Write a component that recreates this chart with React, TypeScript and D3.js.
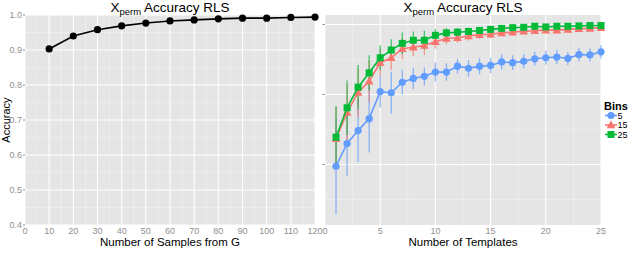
import * as d3 from 'd3';

// left panel: accuracy vs number of samples
const samples = [10, 20, 30, 40, 50, 60, 70, 80, 90, 100, 110, 120];
const sampleAcc = [0.903, 0.94, 0.958, 0.969, 0.977, 0.983, 0.986, 0.989, 0.991, 0.991, 0.993, 0.994];

// right panel: accuracy vs number of templates, per bin count
const templates = [1, 2, 3, 4, 5, 6, 7, 8, 9, 10, 11, 12, 13, 14, 15, 16, 17, 18, 19, 20, 21, 22, 23, 24, 25];
const acc5 = [0.595, 0.66, 0.697, 0.731, 0.808, 0.805, 0.835, 0.846, 0.852, 0.864, 0.864, 0.881, 0.875, 0.881, 0.883, 0.893, 0.891, 0.895, 0.902, 0.905, 0.907, 0.903, 0.914, 0.913, 0.922];
const err5 = [0.137, 0.093, 0.09, 0.097, 0.045, 0.06, 0.036, 0.03, 0.026, 0.027, 0.025, 0.021, 0.024, 0.023, 0.022, 0.022, 0.021, 0.021, 0.02, 0.02, 0.02, 0.019, 0.019, 0.019, 0.019];
const acc15 = [0.674, 0.749, 0.806, 0.838, 0.891, 0.905, 0.931, 0.935, 0.94, 0.951, 0.96, 0.962, 0.967, 0.971, 0.972, 0.976, 0.978, 0.981, 0.982, 0.984, 0.984, 0.986, 0.988, 0.989, 0.991];
const err15 = [0.09, 0.08, 0.07, 0.06, 0.04, 0.035, 0.03, 0.025, 0.028, 0.02, 0.016, 0.014, 0.013, 0.012, 0.011, 0.01, 0.01, 0.009, 0.009, 0.009, 0.008, 0.008, 0.008, 0.007, 0.007];
const acc25 = [0.678, 0.762, 0.821, 0.862, 0.905, 0.927, 0.946, 0.955, 0.955, 0.969, 0.976, 0.978, 0.98, 0.983, 0.986, 0.989, 0.991, 0.992, 0.995, 0.993, 0.995, 0.995, 0.996, 0.997, 0.997];
const err25 = [0.089, 0.078, 0.063, 0.05, 0.036, 0.031, 0.031, 0.025, 0.027, 0.018, 0.014, 0.012, 0.011, 0.01, 0.01, 0.009, 0.009, 0.008, 0.008, 0.008, 0.007, 0.007, 0.007, 0.006, 0.006];

const leftXTicks = [0, 10, 20, 30, 40, 50, 60, 70, 80, 90, 100, 110, 120];
const leftYTicks = [0.4, 0.5, 0.6, 0.7, 0.8, 0.9, 1.0];
const rightXTicks = [0, 5, 10, 15, 20, 25];
const rightYTicks = [0.4, 0.6, 0.8, 1.0];

const FONT = "'Liberation Sans', Arial, sans-serif";
const BG = '#E5E5E5';
const MINOR = '#F2F2F2';
const TICK_TXT = '#8f8f8f';

const series = [
  { name: '5', acc: acc5, err: err5, color: '#619CFF', shape: 'circle' },
  { name: '15', acc: acc15, err: err15, color: '#F8766D', shape: 'triangle' },
  { name: '25', acc: acc25, err: err25, color: '#00BA38', shape: 'square' },
];

const Shape = ({ shape, x, y, color }: any) => {
  if (shape === 'circle') return <circle cx={x} cy={y} r={3.6} fill={color} />;
  if (shape === 'square') return <rect x={x - 3.5} y={y - 3.5} width={7} height={7} fill={color} />;
  const s = 4.4;
  return <path d={`M${x},${y - s}L${x + s},${y + s * 0.75}L${x - s},${y + s * 0.75}Z`} fill={color} />;
};

const Title = ({ x }: any) => (
  <text x={x} y={12} textAnchor="middle" fontSize={13.5} fontFamily={FONT} fill="#000">
    X<tspan fontSize={9.5} dy={2.5}>perm</tspan><tspan dy={-2.5}> Accuracy RLS</tspan>
  </text>
);

const App = () => {
  const top = 15, bottom = 225;

  // left panel scales
  const xL = d3.scaleLinear().domain([0, 120]).range([25, 315]);
  const yL = d3.scaleLinear().domain([0.4, 1.0]).range([bottom, top]);
  // right panel scales
  const xR = d3.scaleLinear().domain([0, 25]).range([325, 601]);
  const yR = d3.scaleLinear().domain([1 - (bottom - 24.5) / 350, 1 - (top - 24.5) / 350]).range([bottom, top]);

  const leftLine = d3.line<number>().x((d, i) => xL(samples[i])).y(d => yL(d));
  const rightLine = (acc: number[]) =>
    d3.line<number>().x((d, i) => xR(templates[i])).y(d => yR(d))(acc) || '';

  const leftMinorX = d3.range(5, 120, 10);
  const leftMinorY = d3.range(0.45, 1.0, 0.1);
  const rightMinorX = d3.range(2.5, 25, 5);
  const rightMinorY = [0.5, 0.7, 0.9];

  return (
    <div style={{ position: 'absolute', left: 0, top: 0 }}>
      <svg width={640} height={263} style={{ display: 'block' }} fontFamily={FONT}>
        <rect width={640} height={263} fill="#fff" />

        {/* ---- left panel ---- */}
        <rect x={25} y={top} width={290} height={bottom - top} fill={BG} />
        {leftMinorX.map(v => <line key={'lmx' + v} x1={xL(v)} x2={xL(v)} y1={top} y2={bottom} stroke={MINOR} strokeWidth={0.6} />)}
        {leftMinorY.map(v => <line key={'lmy' + v} x1={25} x2={315} y1={yL(v)} y2={yL(v)} stroke={MINOR} strokeWidth={0.6} />)}
        {leftXTicks.map(v => <line key={'lgx' + v} x1={xL(v)} x2={xL(v)} y1={top} y2={bottom} stroke="#fff" strokeWidth={1.1} />)}
        {leftYTicks.map(v => <line key={'lgy' + v} x1={25} x2={315} y1={yL(v)} y2={yL(v)} stroke="#fff" strokeWidth={1.1} />)}
        <path d={leftLine(sampleAcc) || ''} fill="none" stroke="#000" strokeWidth={1.6} />
        {sampleAcc.map((d, i) => <circle key={'lp' + i} cx={xL(samples[i])} cy={yL(d)} r={3.6} fill="#000" />)}
        {leftYTicks.map(v => (
          <g key={'lyt' + v}>
            <line x1={23} x2={25} y1={yL(v)} y2={yL(v)} stroke={TICK_TXT} />
            <text x={22} y={yL(v) + 3} textAnchor="end" fontSize={9} fill={TICK_TXT}>{v.toFixed(1)}</text>
          </g>
        ))}
        {leftXTicks.map(v => (
          <g key={'lxt' + v}>
            <text x={xL(v)} y={bottom + 9} textAnchor="middle" fontSize={9} fill={TICK_TXT}>{v}</text>
          </g>
        ))}
        <Title x={170} />
        <text x={170} y={246} textAnchor="middle" fontSize={11.5} fill="#000">Number of Samples from G</text>
        <text transform={`translate(9.5,${120}) rotate(-90)`} textAnchor="middle" fontSize={11} fill="#000">Accuracy</text>

        {/* ---- right panel ---- */}
        <rect x={325} y={top} width={276} height={bottom - top} fill={BG} />
        {rightMinorX.map(v => <line key={'rmx' + v} x1={xR(v)} x2={xR(v)} y1={top} y2={bottom} stroke={MINOR} strokeWidth={0.6} />)}
        {rightMinorY.map(v => <line key={'rmy' + v} x1={325} x2={601} y1={yR(v)} y2={yR(v)} stroke={MINOR} strokeWidth={0.6} />)}
        {rightXTicks.map(v => <line key={'rgx' + v} x1={xR(v)} x2={xR(v)} y1={top} y2={bottom} stroke="#fff" strokeWidth={1.1} />)}
        {rightYTicks.filter(v => yR(v) < bottom).map(v => <line key={'rgy' + v} x1={325} x2={601} y1={yR(v)} y2={yR(v)} stroke="#fff" strokeWidth={1.1} />)}

        {series.map(s => (
          <g key={'eb' + s.name}>
            {s.acc.map((d, i) => (
              <line key={i} x1={xR(templates[i])} x2={xR(templates[i])}
                y1={yR(d - s.err[i])} y2={yR(d + s.err[i])}
                stroke={s.color} strokeWidth={1.3} opacity={0.7} />
            ))}
          </g>
        ))}
        {series.map(s => (
          <g key={'ln' + s.name}>
            <path d={rightLine(s.acc)} fill="none" stroke={s.color} strokeWidth={1.6} />
            {s.acc.map((d, i) => <Shape key={i} shape={s.shape} x={xR(templates[i])} y={yR(d)} color={s.color} />)}
          </g>
        ))}
        {rightYTicks.filter(v => yR(v) < bottom).map(v => (
          <line key={'ryt' + v} x1={322.5} x2={325} y1={yR(v)} y2={yR(v)} stroke={TICK_TXT} />
        ))}
        {rightXTicks.map(v => (
          <g key={'rxt' + v}>
            <text x={xR(v)} y={bottom + 9} textAnchor="middle" fontSize={9} fill={TICK_TXT}>{v}</text>
          </g>
        ))}
        <Title x={463} />
        <text x={463} y={246} textAnchor="middle" fontSize={11.5} fill="#000">Number of Templates</text>

        {/* ---- legend ---- */}
        <text x={604} y={110} fontSize={11} fontWeight="bold" fill="#000">Bins</text>
        {series.map((s, i) => {
          const ly = 115.5 + i * 9.5;
          return (
            <g key={'lg' + s.name}>
              <line x1={605} x2={617} y1={ly} y2={ly} stroke={s.color} strokeWidth={1.6} />
              <Shape shape={s.shape} x={611} y={ly} color={s.color} />
              <text x={617.5} y={ly + 3.3} fontSize={9} fill="#000">{s.name}</text>
            </g>
          );
        })}
      </svg>
    </div>
  );
};

export default App;
